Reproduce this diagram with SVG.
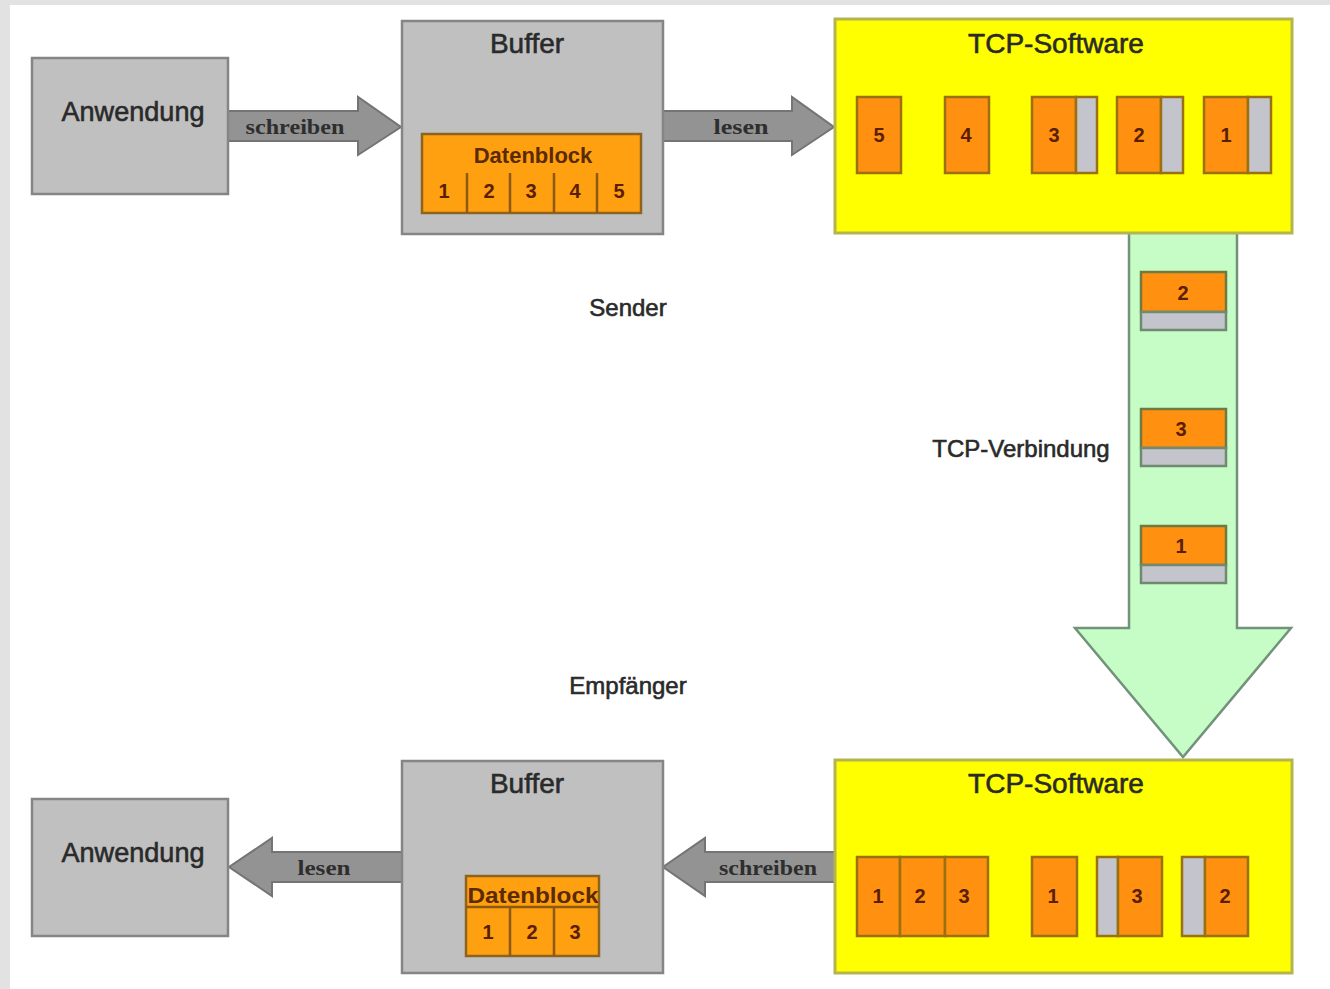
<svg xmlns="http://www.w3.org/2000/svg" width="1330" height="989" viewBox="0 0 1330 989">
<style>
.bg{fill:#ffffff}
.frame{fill:#e2e2e2}
.gbox{fill:#c0c0c0;stroke:#858585;stroke-width:2.5}
.tcp{fill:#ffff00;stroke:#b4b450;stroke-width:3}
.blk{fill:#ffa010;stroke:#8c6420;stroke-width:2.5}
.seg{fill:#ff9010;stroke:#9a7010;stroke-width:2.5}
.ack{fill:#c4c4cc;stroke:#9a7010;stroke-width:2.5}
.ackg{fill:#c4c4cc;stroke:#6f8a70;stroke-width:2.5}
.segg{fill:#ff9010;stroke:#6f7a40;stroke-width:2.5}
.div{stroke:#8c5a10;stroke-width:2.5}
.arr{fill:#939393;stroke:#747474;stroke-width:2}
.big{fill:#2a2a2a;stroke:#2a2a2a;stroke-width:0.6;font-family:"Liberation Sans",Arial,sans-serif;font-size:28px;text-anchor:middle}
.lbl{fill:#2a2a2a;stroke:#2a2a2a;stroke-width:0.6;font-family:"Liberation Sans",Arial,sans-serif;font-size:24px;text-anchor:middle}
.al{fill:#2e2e2e;font-family:"Liberation Serif","Times New Roman",serif;font-weight:bold;font-size:20px;text-anchor:middle}
.num{fill:#5a1e00;font-family:"Liberation Sans",Arial,sans-serif;font-weight:bold;font-size:20px;text-anchor:middle}
.dbt{fill:#5a2a00;font-family:"Liberation Sans",Arial,sans-serif;font-weight:bold;font-size:22px;text-anchor:middle}
</style>
<rect class="bg" x="0" y="0" width="1330" height="989"/>
<rect class="frame" x="0" y="0" width="1330" height="5"/>
<rect class="frame" x="0" y="0" width="10" height="989"/>

<g id="connectors">
  <polygon id="conn-schreiben-top" class="arr" points="228,111 358,111 358,97 401,127 358,155 358,141 228,141"/>
  <text class="al" x="295" y="134" textLength="99" lengthAdjust="spacingAndGlyphs">schreiben</text>
  <polygon id="conn-lesen-top" class="arr" points="663,111 792,111 792,97 834,127 792,155 792,141 663,141"/>
  <text class="al" x="741" y="134" textLength="55" lengthAdjust="spacingAndGlyphs">lesen</text>
  <polygon id="conn-lesen-bottom" class="arr" points="402,852 272,852 272,838 229,867 272,896 272,882 402,882"/>
  <text class="al" x="324" y="875" textLength="53" lengthAdjust="spacingAndGlyphs">lesen</text>
  <polygon id="conn-schreiben-bottom" class="arr" points="835,852 705,852 705,838 663,867 705,896 705,882 835,882"/>
  <text class="al" x="768" y="875" textLength="98" lengthAdjust="spacingAndGlyphs">schreiben</text>
  <g id="conn-tcp-verbindung">
    <polygon fill="#c6fcc6" stroke="#72927a" stroke-width="2.5" points="1129,232 1237,232 1237,628 1291,628 1183,757 1075,628 1129,628"/>
    <rect class="segg" x="1141" y="272" width="85" height="40"/>
    <rect class="ackg" x="1141" y="312" width="85" height="18"/>
    <text class="num" x="1183" y="300">2</text>
    <rect class="segg" x="1141" y="409" width="85" height="39"/>
    <rect class="ackg" x="1141" y="448" width="85" height="18"/>
    <text class="num" x="1181" y="436">3</text>
    <rect class="segg" x="1141" y="526" width="85" height="39"/>
    <rect class="ackg" x="1141" y="565" width="85" height="18"/>
    <text class="num" x="1181" y="553">1</text>
  </g>
</g>

<g id="anwendung-sender">
  <rect class="gbox" x="32" y="58" width="196" height="136"/>
  <text class="big" x="133" y="121" textLength="143" lengthAdjust="spacingAndGlyphs">Anwendung</text>
</g>

<g id="buffer-sender">
  <rect class="gbox" x="402" y="21" width="261" height="213"/>
  <text class="big" x="527" y="53">Buffer</text>
  <g id="datenblock-sender">
    <rect class="blk" x="422" y="134" width="219" height="79"/>
    <text class="dbt" x="533" y="163">Datenblock</text>
    <line class="div" x1="467" y1="173" x2="467" y2="213"/>
    <line class="div" x1="510" y1="173" x2="510" y2="213"/>
    <line class="div" x1="554" y1="173" x2="554" y2="213"/>
    <line class="div" x1="597" y1="173" x2="597" y2="213"/>
    <text class="num" x="444" y="198">1</text>
    <text class="num" x="489" y="198">2</text>
    <text class="num" x="531" y="198">3</text>
    <text class="num" x="575" y="198">4</text>
    <text class="num" x="619" y="198">5</text>
  </g>
</g>

<g id="tcp-sender">
  <rect class="tcp" x="835" y="19" width="457" height="214"/>
  <text class="big" x="1056" y="53">TCP-Software</text>
  <rect class="seg" x="857" y="97" width="44" height="76"/>
  <text class="num" x="879" y="142">5</text>
  <rect class="seg" x="945" y="97" width="44" height="76"/>
  <text class="num" x="966" y="142">4</text>
  <rect class="seg" x="1032" y="97" width="44" height="76"/>
  <rect class="ack" x="1076" y="97" width="21" height="76"/>
  <text class="num" x="1054" y="142">3</text>
  <rect class="seg" x="1117" y="97" width="44" height="76"/>
  <rect class="ack" x="1161" y="97" width="22" height="76"/>
  <text class="num" x="1139" y="142">2</text>
  <rect class="seg" x="1204" y="97" width="44" height="76"/>
  <rect class="ack" x="1248" y="97" width="23" height="76"/>
  <text class="num" x="1226" y="142">1</text>
</g>

<text id="label-sender" class="lbl" x="628" y="316">Sender</text>
<text id="label-verbindung" class="lbl" x="1021" y="457">TCP-Verbindung</text>
<text id="label-empfaenger" class="lbl" x="628" y="694">Empfänger</text>

<g id="anwendung-empfaenger">
  <rect class="gbox" x="32" y="799" width="196" height="137"/>
  <text class="big" x="133" y="862" textLength="143" lengthAdjust="spacingAndGlyphs">Anwendung</text>
</g>

<g id="buffer-empfaenger">
  <rect class="gbox" x="402" y="761" width="261" height="212"/>
  <text class="big" x="527" y="793">Buffer</text>
  <g id="datenblock-empfaenger">
    <rect class="blk" x="466" y="876" width="133" height="80"/>
    <line class="div" x1="466" y1="907" x2="599" y2="907" stroke-width="1.5"/>
    <text class="dbt" x="533" y="903" fill="#3a2800" textLength="131" lengthAdjust="spacingAndGlyphs">Datenblock</text>
    <line class="div" x1="510" y1="907" x2="510" y2="956"/>
    <line class="div" x1="554" y1="907" x2="554" y2="956"/>
    <text class="num" x="488" y="939">1</text>
    <text class="num" x="532" y="939">2</text>
    <text class="num" x="575" y="939">3</text>
  </g>
</g>

<g id="tcp-empfaenger">
  <rect class="tcp" x="835" y="760" width="457" height="213"/>
  <text class="big" x="1056" y="793">TCP-Software</text>
  <rect class="seg" x="857" y="857" width="43" height="79"/>
  <rect class="seg" x="900" y="857" width="45" height="79"/>
  <rect class="seg" x="945" y="857" width="43" height="79"/>
  <text class="num" x="878" y="903">1</text>
  <text class="num" x="920" y="903">2</text>
  <text class="num" x="964" y="903">3</text>
  <rect class="seg" x="1032" y="857" width="45" height="79"/>
  <text class="num" x="1053" y="903">1</text>
  <rect class="ack" x="1097" y="857" width="21" height="79"/>
  <rect class="seg" x="1118" y="857" width="44" height="79"/>
  <text class="num" x="1137" y="903">3</text>
  <rect class="ack" x="1182" y="857" width="23" height="79"/>
  <rect class="seg" x="1205" y="857" width="43" height="79"/>
  <text class="num" x="1225" y="903">2</text>
</g>
</svg>
